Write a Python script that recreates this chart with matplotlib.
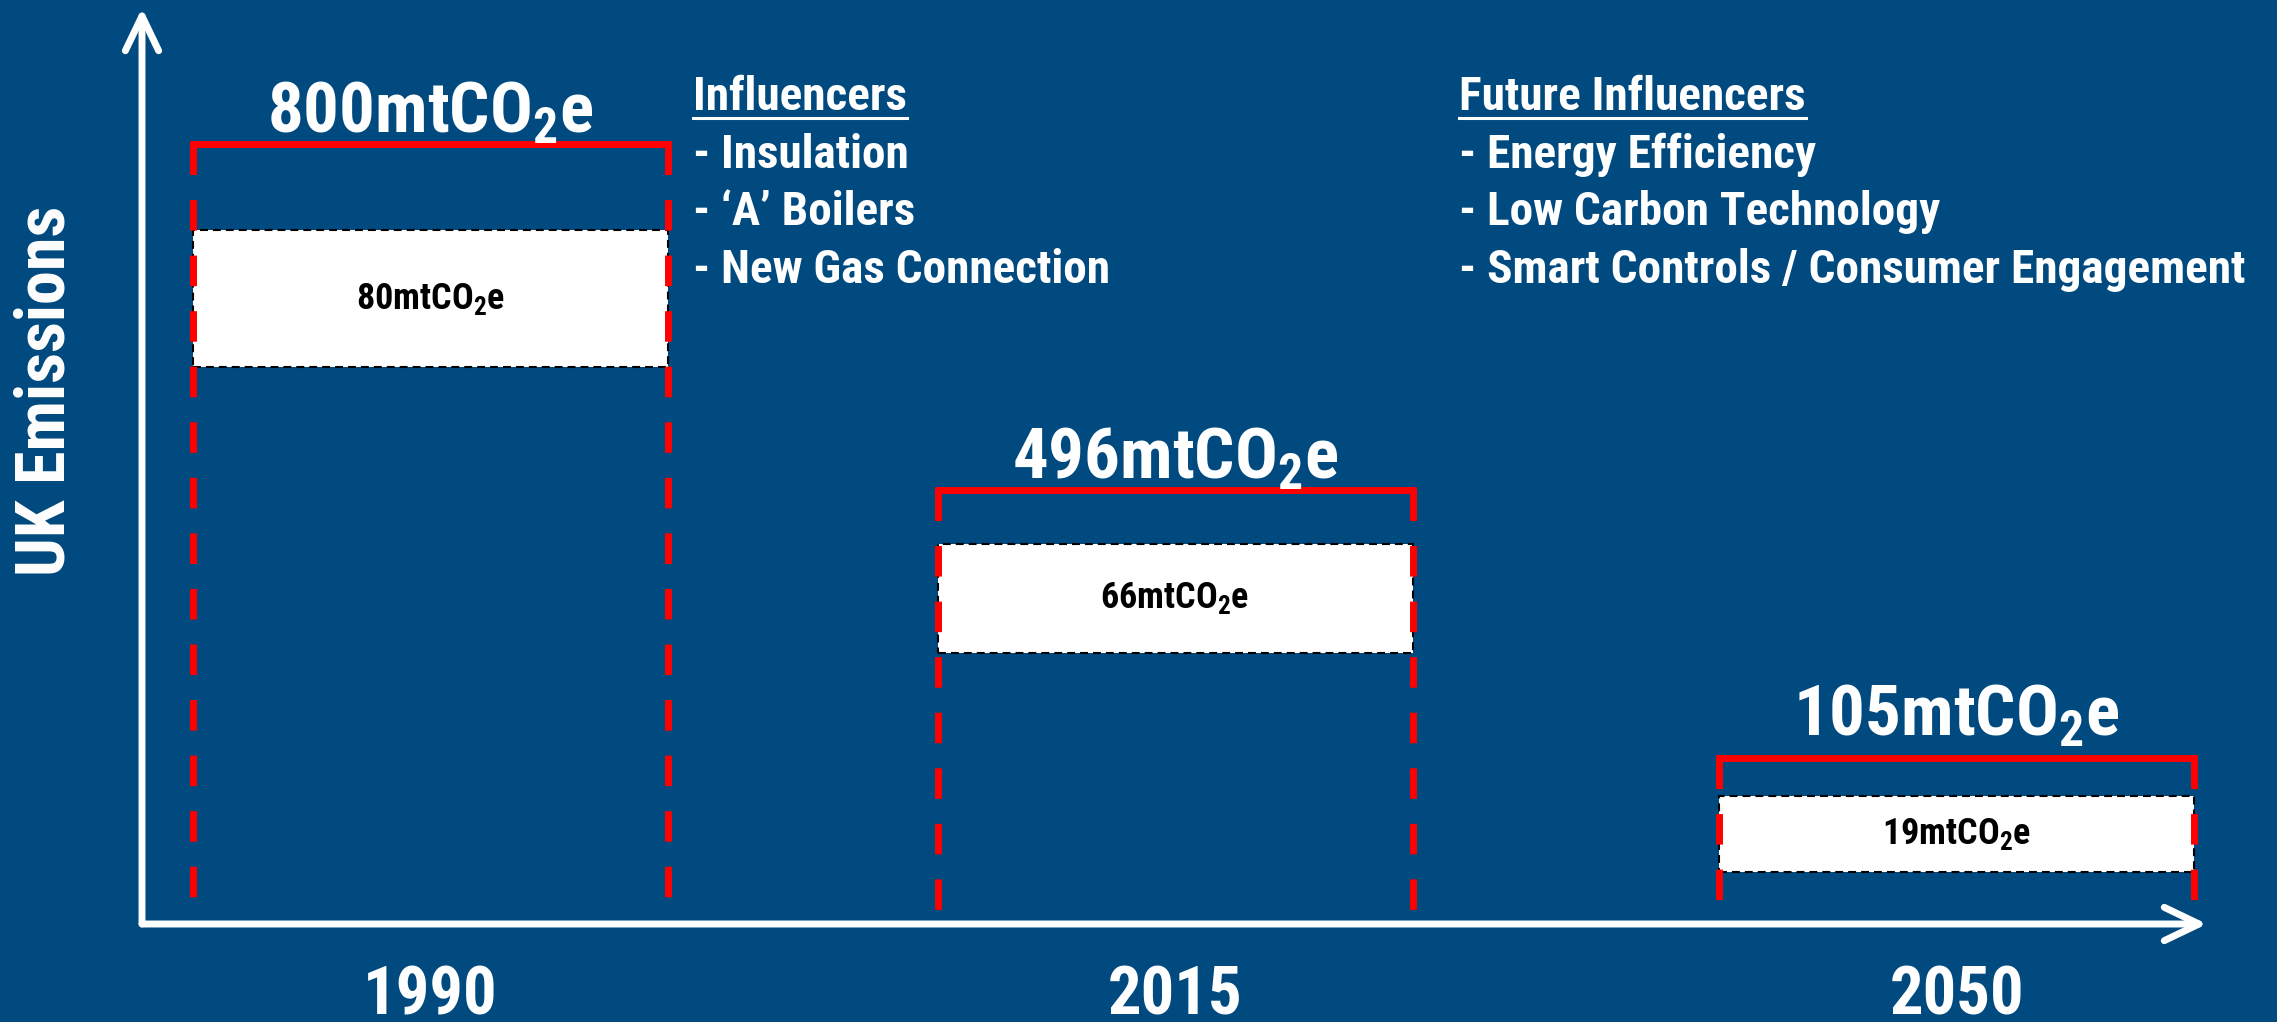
import matplotlib
matplotlib.use('Agg')  # no display
import matplotlib.pyplot as plt
from matplotlib import font_manager as fm
from matplotlib.patches import Rectangle
from matplotlib.lines import Line2D

# ---- data ----
years = ['1990', '2015', '2050']
totals = ['800', '496', '105']        # mtCO2e above each bar
box_values = ['80', '66', '19']       # mtCO2e inside each white box
# heights as drawn on the slide (illustrative scale, not proportional)
bar_top = [800, 445, 170]
box_top = [711, 390, 131]
box_bottom = [571, 278, 53]
bar_x = [0, 1, 2.05]

influencers_title = 'Influencers'
influencers = ['- Insulation', '- \u2018A\u2019 Boilers', '- New Gas Connection']
future_title = 'Future Influencers'
future_influencers = ['- Energy Efficiency', '- Low Carbon Technology',
                      '- Smart Controls / Consumer Engagement']

# ---- font: a narrow bold sans like Arial Narrow ----
bold_fams = {f.name for f in fm.fontManager.ttflist if f.weight in (700, 'bold')}
candidates = ['Liberation Sans Narrow', 'Arial Narrow', 'Roboto Condensed', 'PT Sans Narrow',
              'IBM Plex Sans Condensed', 'Fira Sans Condensed', 'Archivo Narrow',
              'Encode Sans Condensed', 'Saira SemiCondensed', 'Liberation Sans']
FONT = next((c for c in candidates if c in bold_fams), 'DejaVu Sans')

plt.rcParams['font.family'] = [FONT, 'DejaVu Sans']
plt.rcParams['font.weight'] = 'bold'
plt.rcParams['mathtext.fontset'] = 'custom'
plt.rcParams['mathtext.rm'] = FONT + ':bold'
plt.rcParams['mathtext.bf'] = FONT + ':bold'
plt.rcParams['mathtext.it'] = FONT + ':bold'

# ---- style ----
BG = '#004a80'
RED = '#ff0000'
W, H = 2277, 1022
bar_w = 0.638
dash_floor = 12          # red side lines stop just above the x axis
label_lift = [8, 8, 16]  # points between top line and big label baseline

fig = plt.figure(figsize=(W / 100, H / 100), dpi=100, facecolor=BG)
ax = fig.add_axes([142 / W, (H - 924) / H, (2207 - 142) / W, (924 - 8) / H])
ax.set_facecolor('none')
ax.set_xlim(-0.3875, 2.386)
ax.set_ylim(0, 939)
for s in ax.spines.values():
    s.set_visible(False)
ax.set_yticks([])
ax.set_xticks(bar_x, years)
ax.tick_params(axis='x', length=0, pad=29, labelsize=48, labelcolor='white')

# axes as white arrows
arrow_kw = dict(arrowstyle='->,head_length=25,head_width=12', mutation_scale=1,
                color='white', lw=5, shrinkA=0, shrinkB=0,
                capstyle='round', joinstyle='round')
ax.annotate('', xy=(0, 1), xytext=(0, 0), xycoords='axes fraction', arrowprops=arrow_kw)
ax.annotate('', xy=(1, 0), xytext=(0, 0), xycoords='axes fraction', arrowprops=arrow_kw)

for i in range(len(years)):
    left = bar_x[i] - bar_w / 2
    right = bar_x[i] + bar_w / 2
    # white box with dashed black border
    ax.add_patch(Rectangle((left, box_bottom[i]), bar_w, box_top[i] - box_bottom[i],
                           facecolor='white', edgecolor='black', lw=1.5,
                           linestyle=(0, (3.8, 2.4)), zorder=2))
    ax.text(bar_x[i], (box_top[i] + box_bottom[i]) / 2,
            f'{box_values[i]}mtCO$_\\mathrm{{2}}$e',
            ha='center', va='center', fontsize=26, color='black', zorder=4)
    # red bracket: solid top, dashed sides
    ax.plot([left, right], [bar_top[i], bar_top[i]], color=RED, lw=5,
            solid_capstyle='projecting', zorder=3)
    for xx in (left, right):
        ax.plot([xx, xx], [bar_top[i], dash_floor], color=RED, lw=5, dashes=(4.4, 3.6),
                dash_capstyle='butt', zorder=3)
    ax.annotate(f'{totals[i]}mtCO$_\\mathrm{{2}}$e', xy=(bar_x[i], bar_top[i]),
                xytext=(0, label_lift[i]), textcoords='offset points',
                ha='center', va='baseline', fontsize=51, color='white', zorder=5)

ax.text(-0.0465, 0.582, 'UK Emissions', transform=ax.transAxes, rotation=90,
        ha='center', va='center', fontsize=49, color='white')

# influencer lists
base0 = 110
step = 57.7
titles = []
for x0, title, items in [(693, influencers_title, influencers),
                         (1459, future_title, future_influencers)]:
    t = fig.text(x0 / W, 1 - base0 / H, title, fontsize=34, color='white', va='baseline')
    titles.append(t)
    for j, line in enumerate(items):
        fig.text(x0 / W, 1 - (base0 + step * (j + 1)) / H, line, fontsize=34,
                 color='white', va='baseline')

# underline the list titles
fig.canvas.draw()
renderer = fig.canvas.get_renderer()
for t in titles:
    bb = t.get_window_extent(renderer)
    y_ul = 1 - 118 / H
    fig.add_artist(Line2D([bb.x0 / W, bb.x1 / W], [y_ul, y_ul], color='white', lw=2.2,
                          transform=fig.transFigure))

fig.savefig('out.png', dpi=100, facecolor=BG)
plt.close(fig)
